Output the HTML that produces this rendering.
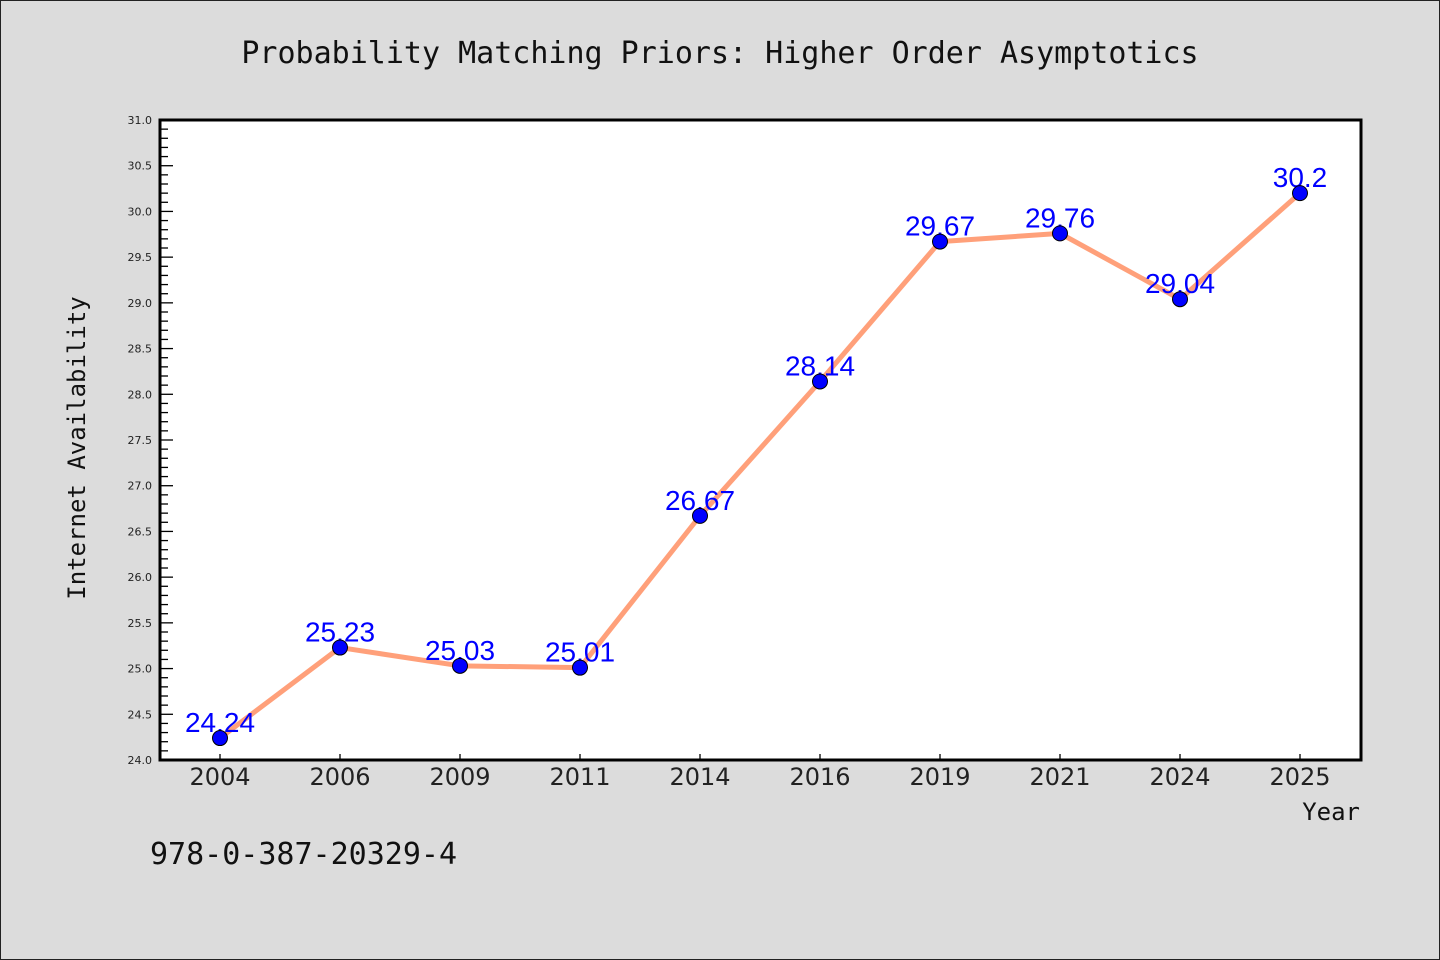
<!DOCTYPE html>
<html><head><meta charset="utf-8"><style>
html,body{margin:0;padding:0;background:#dcdcdc;}
svg{display:block;}
</style></head><body>
<svg id="chart" width="1440" height="960" xmlns="http://www.w3.org/2000/svg">
<rect x="0.5" y="0.5" width="1439" height="959" fill="#dcdcdc" stroke="#222" stroke-width="1"/>
<text x="720" y="63" text-anchor="middle" font-family="'DejaVu Sans Mono', monospace" font-size="30" fill="#111">Probability Matching Priors: Higher Order Asymptotics</text>
<rect x="160" y="120" width="1201" height="640" fill="#fff"/>
<g id="yticks"></g>
<g id="xticks"></g>
<g id="series"></g>
<rect x="160" y="120" width="1201" height="640" fill="none" stroke="#000" stroke-width="3"/>
<text transform="translate(85,448) rotate(-90)" text-anchor="middle" font-family="'DejaVu Sans Mono', monospace" font-size="24" fill="#111">Internet Availability</text>
<text x="1360" y="820" text-anchor="end" font-family="'DejaVu Sans Mono', monospace" font-size="24" fill="#111">Year</text>
<text x="150" y="864" font-family="'DejaVu Sans Mono', monospace" font-size="30" fill="#111">978-0-387-20329-4</text>
</svg>
<script>
const categories = ["2004","2006","2009","2011","2014","2016","2019","2021","2024","2025"];
const values = [24.24,25.23,25.03,25.01,26.67,28.14,29.67,29.76,29.04,30.2];
const valueLabels = ["24.24","25.23","25.03","25.01","26.67","28.14","29.67","29.76","29.04","30.2"];
const yTickLabels = ["24.0","24.5","25.0","25.5","26.0","26.5","27.0","27.5","28.0","28.5","29.0","29.5","30.0","30.5","31.0"];
const yMin = 24, yMax = 31;
const NS = "http://www.w3.org/2000/svg";
function y(v){ return 760 - (v - yMin) / (yMax - yMin) * 640; }
function x(i){ return 220 + i * 120; }
function mk(tag, attrs, parent){ const e = document.createElementNS(NS, tag); for (const k in attrs) e.setAttribute(k, attrs[k]); parent.appendChild(e); return e; }
const yt = document.getElementById('yticks');
for (let k = 0; k <= 70; k++) {
  const v = yMin + k * 0.1, major = k % 5 === 0;
  const l = mk('line', {x1:160, x2:160 + (major ? 13 : 8), y1:y(v), y2:y(v), stroke:'#000', 'stroke-width':1.3}, yt);
  
  
}
yTickLabels.forEach(t => {
  const e = mk('text', {x:152, y:y(parseFloat(t)) + 4, 'text-anchor':'end', 'font-family':"'DejaVu Sans', sans-serif", 'font-size':11, fill:'#222'}, yt);
  e.textContent = t;
  
  
});
const xt = document.getElementById('xticks');
categories.forEach((c, i) => {
  const l = mk('line', {x1:x(i), x2:x(i), y1:760, y2:754, stroke:'#000', 'stroke-width':1.3}, xt);
  
  
  const e = mk('text', {x:x(i), y:785, 'text-anchor':'middle', 'font-family':"'DejaVu Sans', sans-serif", 'font-size':24, fill:'#222'}, xt);
  e.textContent = c;
  
  
});
const s = document.getElementById('series');
const line = mk('polyline', {points: values.map((v, i) => x(i) + ',' + y(v)).join(' '), fill:'none', stroke:'#ffa07a', 'stroke-width':5, 'stroke-linejoin':'round'}, s);


values.forEach((v, i) => {
  const t = mk('text', {x:x(i), y:y(v) - 6, 'text-anchor':'middle', 'font-family':"'Liberation Sans', sans-serif", 'font-size':28, fill:'#0000ff'}, s);
  t.textContent = valueLabels[i];
  
  
});
values.forEach((v, i) => {
  const c = mk('circle', {cx:x(i), cy:y(v), r:7.5, fill:'#0000ff', stroke:'#000', 'stroke-width':1}, s);
  
  
});
</script>
</body></html>
